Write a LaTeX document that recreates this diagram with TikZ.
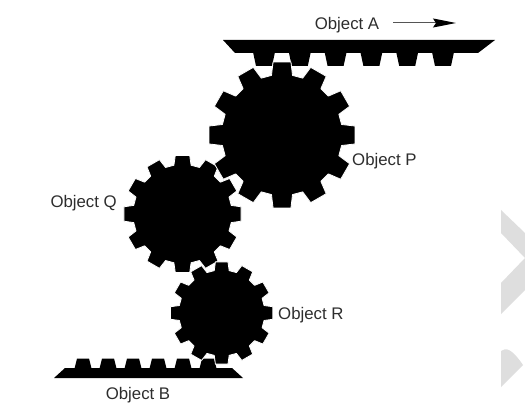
\documentclass[tikz,border=0pt]{standalone}
\usepackage{fontspec}
\setmainfont{Liberation Sans}
\usetikzlibrary{arrows.meta}
\definecolor{labelgray}{RGB}{45,45,45}
\definecolor{shaftgray}{RGB}{85,85,85}
\definecolor{markgray}{RGB}{222,222,222}
\tikzset{
    gearfill/.style={fill=black, draw=white, line width=0.8pt, line join=round},
    rackfill/.style={fill=black},
    objlabel/.style={text=labelgray, font=\fontsize{16.8}{20}\selectfont, inner sep=0pt},
    markfill/.style={fill=markgray}
}
% center x, center y, root radius, tip radius
\newcommand{\drawgear}[4]{
    \path[gearfill, shift={(#1,#2)}] (-10:#3)
        \foreach \a in {0,30,...,330} {
            -- (\a-10:#3) -- (\a-7:#4) -- (\a+7:#4) -- (\a+10:#3)
        } -- cycle;
}
% first tooth x, tooth pitch, root y, tip y, half width at root, half width at tip
\newcommand{\drawteeth}[6]{
    \foreach \t in {0,...,5} {
        \fill[rackfill] ({#1+\t*#2-#5},#3) -- ({#1+\t*#2-#6},#4) -- ({#1+\t*#2+#6},#4) -- ({#1+\t*#2+#5},#3) -- cycle;
    }
}
\begin{document}
\begin{tikzpicture}[x=1pt, y=-1pt]
    \useasboundingbox (0,0) rectangle (525,406);

    % Marks at the right edge
    \fill[markfill] (501,210) -- (525,233) -- (525,258) -- (501,233) -- cycle;
    \fill[markfill] (525,258) -- (501,283) -- (501,314) -- (525,290) -- cycle;
    \fill[markfill] (501,351) .. controls (506,347) and (512,349) .. (523,365) -- (501,387) -- cycle;

    % Object A
    \fill[rackfill] (223,40) -- (495,40) -- (478,53) -- (235,53) -- cycle;
    \drawteeth{264}{35.8}{52}{66}{11}{8}

    % Object B
    \fill[rackfill] (54,378) -- (243,378) -- (232,368) -- (65,368) -- cycle;
    \drawteeth{83}{25}{368.5}{358.5}{8.5}{6}

    % Gears
    \drawgear{182.5}{214}{49.5}{59}
    \drawgear{221.7}{313}{43}{51.5}
    \drawgear{282}{135}{60.5}{73.5}

    % Labels
    \node[objlabel] (objA) at (347,25) {Object A};
    \node[objlabel, anchor=west] (objP) at (352,161) {Object P};
    \node[objlabel, anchor=east] (objQ) at (117,203) {Object Q};
    \node[objlabel, anchor=west] (objR) at (278,315) {Object R};
    \node[objlabel] (objB) at (138,395) {Object B};

    % Arrow
    \coordinate (arrowfrom) at (393,23);
    \coordinate (arrowto) at (456,23);
    \draw[-{Stealth[length=23pt, width=9pt, inset=3pt, black]}, line width=1pt, shaftgray] (arrowfrom) -- (arrowto);
\end{tikzpicture}
\end{document}
